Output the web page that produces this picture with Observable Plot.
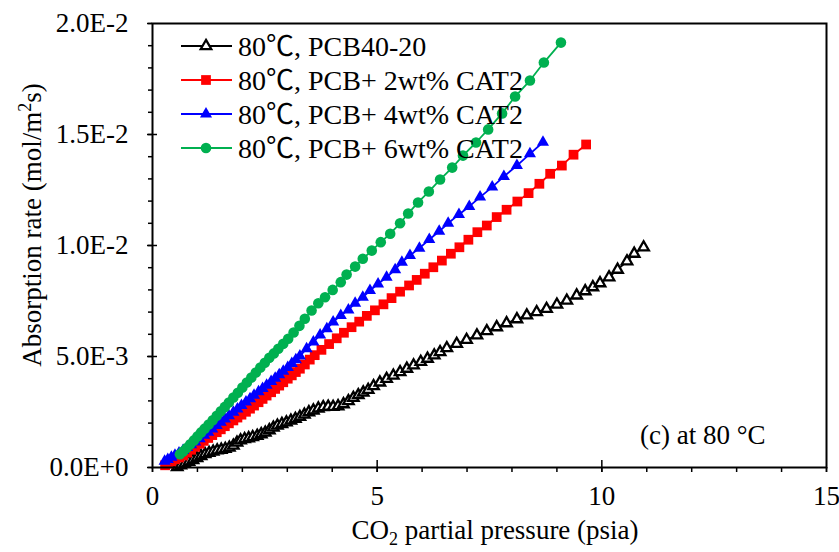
<!DOCTYPE html>
<html><head><meta charset="utf-8">
<script src="https://cdn.jsdelivr.net/npm/d3@7"></script>
<script src="https://cdn.jsdelivr.net/npm/@observablehq/plot@0.6"></script>
<style>body{margin:0;background:#fff;}</style>
</head><body><div id="chart"></div>
<script>
// ---- data (x = CO2 partial pressure, psia; y = absorption rate, mol/m2s) ----
const seriesNames = ["80\u2103, PCB40-20", "80\u2103, PCB+ 2wt% CAT2", "80\u2103, PCB+ 4wt% CAT2", "80\u2103, PCB+ 6wt% CAT2"];

const pcb40_20 = [
[0.55,0.00002],[0.63,0.00010],[0.72,0.00018],[0.81,0.00026],[0.90,0.00034],[0.99,0.00043],[1.08,0.00052],[1.17,0.00060],
[1.26,0.00066],[1.35,0.00072],[1.44,0.00077],[1.53,0.00080],[1.62,0.00084],[1.71,0.00090],[1.80,0.00099],[1.88,0.00112],
[1.96,0.00122],[2.05,0.00128],[2.14,0.00132],[2.23,0.00137],[2.33,0.00143],[2.42,0.00150],[2.51,0.00157],[2.60,0.00168],
[2.69,0.00180],[2.78,0.00189],[2.88,0.00196],[2.98,0.00203],[3.08,0.00211],[3.18,0.00219],[3.28,0.00228],[3.38,0.00238],
[3.48,0.00249],[3.58,0.00257],[3.69,0.00266],[3.80,0.00272],[3.91,0.00274],[4.02,0.00273],[4.13,0.00276],[4.25,0.00285],
[4.36,0.00299],[4.47,0.00314],[4.58,0.00326],[4.69,0.00338],[4.80,0.00350],[4.92,0.00367],[5.06,0.00383],[5.21,0.00399],
[5.36,0.00414],[5.51,0.00430],[5.66,0.00445],[5.81,0.00460],[5.97,0.00476],[6.12,0.00490],[6.27,0.00505],[6.40,0.00520],
[6.55,0.00538],[6.77,0.00557],[6.99,0.00575],[7.22,0.00595],[7.44,0.00614],[7.66,0.00632],[7.88,0.00650],[8.11,0.00668],
[8.33,0.00685],[8.55,0.00700],[8.77,0.00715],[9.00,0.00734],[9.22,0.00752],[9.44,0.00775],[9.63,0.00794],[9.80,0.00812],
[9.96,0.00830],[10.16,0.00857],[10.35,0.00891],[10.56,0.00929],[10.72,0.00963],[10.93,0.00992]
];

const cat2_2wt = [
[0.28,0.00010],[0.35,0.00018],[0.42,0.00027],[0.50,0.00037],[0.59,0.00045],[0.68,0.00054],[0.77,0.00067],[0.86,0.00080],
[0.95,0.00093],[1.05,0.00107],[1.14,0.00120],[1.24,0.00133],[1.33,0.00146],[1.43,0.00159],[1.52,0.00172],[1.61,0.00186],
[1.70,0.00199],[1.80,0.00212],[1.89,0.00225],[1.98,0.00238],[2.08,0.00251],[2.17,0.00265],[2.26,0.00279],[2.36,0.00294],
[2.45,0.00309],[2.54,0.00324],[2.64,0.00339],[2.73,0.00354],[2.82,0.00369],[2.91,0.00384],[3.01,0.00400],[3.10,0.00415],
[3.19,0.00430],[3.28,0.00445],[3.39,0.00464],[3.50,0.00486],[3.61,0.00506],[3.76,0.00530],[3.93,0.00556],[4.10,0.00582],
[4.26,0.00607],[4.43,0.00632],[4.60,0.00657],[4.77,0.00683],[4.95,0.00708],[5.14,0.00735],[5.32,0.00763],[5.51,0.00792],
[5.71,0.00820],[5.88,0.00845],[6.06,0.00873],[6.25,0.00902],[6.44,0.00932],[6.64,0.00963],[6.83,0.00992],[7.03,0.01026],
[7.23,0.01060],[7.44,0.01090],[7.66,0.01128],[7.88,0.01161],[8.12,0.01198],[8.37,0.01236],[8.61,0.01278],[8.85,0.01323],
[9.11,0.01360],[9.37,0.01409],[9.65,0.01455]
];

const cat2_4wt = [
[0.27,0.00028],[0.34,0.00036],[0.42,0.00046],[0.50,0.00055],[0.59,0.00065],[0.68,0.00077],[0.77,0.00090],[0.86,0.00102],
[0.95,0.00115],[1.05,0.00129],[1.15,0.00145],[1.24,0.00159],[1.33,0.00173],[1.43,0.00189],[1.52,0.00204],[1.61,0.00219],
[1.70,0.00233],[1.80,0.00249],[1.89,0.00264],[1.98,0.00279],[2.08,0.00295],[2.17,0.00310],[2.26,0.00325],[2.36,0.00341],
[2.45,0.00356],[2.54,0.00371],[2.64,0.00387],[2.73,0.00402],[2.82,0.00418],[2.91,0.00434],[3.01,0.00451],[3.10,0.00468],
[3.19,0.00485],[3.28,0.00502],[3.43,0.00535],[3.58,0.00565],[3.73,0.00597],[3.88,0.00625],[4.02,0.00655],[4.19,0.00685],
[4.36,0.00710],[4.51,0.00740],[4.68,0.00767],[4.84,0.00797],[5.02,0.00827],[5.21,0.00857],[5.40,0.00891],[5.55,0.00925],
[5.73,0.00955],[5.94,0.00988],[6.16,0.01027],[6.38,0.01064],[6.58,0.01100],[6.82,0.01140],[7.05,0.01176],[7.29,0.01218],
[7.56,0.01263],[7.82,0.01311],[8.11,0.01360],[8.40,0.01413],[8.69,0.01465]
];

const cat2_6wt = [
[0.61,0.00060],[0.68,0.00072],[0.76,0.00088],[0.84,0.00105],[0.92,0.00122],[1.00,0.00140],[1.08,0.00158],[1.16,0.00175],
[1.25,0.00194],[1.34,0.00213],[1.43,0.00233],[1.52,0.00253],[1.61,0.00273],[1.70,0.00293],[1.80,0.00315],[1.90,0.00337],
[2.00,0.00360],[2.10,0.00383],[2.20,0.00405],[2.30,0.00428],[2.40,0.00450],[2.50,0.00472],[2.60,0.00494],[2.70,0.00514],
[2.80,0.00535],[2.91,0.00557],[3.02,0.00580],[3.14,0.00608],[3.27,0.00638],[3.39,0.00670],[3.54,0.00707],[3.69,0.00740],
[3.84,0.00767],[4.01,0.00800],[4.19,0.00835],[4.32,0.00869],[4.51,0.00905],[4.68,0.00940],[4.88,0.00977],[5.08,0.01015],
[5.29,0.01053],[5.51,0.01100],[5.69,0.01144],[5.91,0.01194],[6.15,0.01243],[6.40,0.01297],[6.67,0.01351],[6.91,0.01405],
[7.20,0.01464],[7.47,0.01523],[7.78,0.01595],[8.07,0.01671],[8.40,0.01743],[8.71,0.01824],[9.09,0.01914]
];

const xTicks = [0, 5, 10, 15];
const xTickLabels = ["0", "5", "10", "15"];
const xMinorTicks = [0,1,2,3,4,5,6,7,8,9,10,11,12,13,14,15];
const xInnerTicks = [5, 10];
const yTicks = [0, 0.005, 0.01, 0.015, 0.02];
const yTickLabels = ["0.0E+0", "5.0E-3", "1.0E-2", "1.5E-2", "2.0E-2"];
const yMinorTicks = [0,0.001,0.002,0.003,0.004,0.005,0.006,0.007,0.008,0.009,0.01,0.011,0.012,0.013,0.014,0.015,0.016,0.017,0.018,0.019,0.02];
const yInnerTicks = [0.005, 0.01, 0.015];
const xTitle = ["CO", "2", " partial pressure (psia)"];
const yTitle = ["Absorption rate (mol/m", "2", "s)"];
const noteText = "(c) at 80 \u00B0C";

// ---- styles ----
const FONT = "'Liberation Serif', 'Times New Roman', 'Noto Sans CJK SC', serif";
const styles = [
  {data: pcb40_20, color: "#000000", symbol: "triangle", r: 3.9, fill: "#ffffff", stroke: "#000000", sw: 2.3},
  {data: cat2_2wt, color: "#ff0000", symbol: "square", r: 5.5, fill: "#ff0000", stroke: "none", sw: 0},
  {data: cat2_4wt, color: "#0000ff", symbol: "triangle", r: 4.5, fill: "#0000ff", stroke: "none", sw: 0},
  {data: cat2_6wt, color: "#00b050", symbol: "circle", r: 5.3, fill: "#00b050", stroke: "none", sw: 0}
];

const seriesMarks = styles.flatMap(s => [
  Plot.line(s.data, {x: d => d[0], y: d => d[1], stroke: s.color, strokeWidth: 1.8}),
  Plot.dot(s.data, {x: d => d[0], y: d => d[1], symbol: s.symbol, r: s.r, fill: s.fill, stroke: s.stroke, strokeWidth: s.sw})
]);

const chart = Plot.plot({
  width: 839, height: 552,
  marginLeft: 152, marginRight: 13, marginTop: 23, marginBottom: 85,
  style: {fontFamily: FONT, fontSize: "27px", background: "#fff", color: "#000", overflow: "visible"},
  x: {domain: [0, 15]},
  y: {domain: [0, 0.02]},
  marks: [
    ...seriesMarks,
    Plot.axisX({ticks: xMinorTicks, tickSize: 5, text: null, strokeWidth: 1.5, label: null}),
    Plot.axisX({ticks: xInnerTicks, tickSize: -7, text: null, strokeWidth: 1.5, label: null}),
    Plot.axisX({ticks: xTicks, tickFormat: d => xTickLabels[xTicks.indexOf(d)], tickSize: 5, tickPadding: 13, strokeWidth: 1.5, fontSize: 27, label: null}),
    Plot.axisY({ticks: yMinorTicks, tickSize: 4, text: null, strokeWidth: 1.5, label: null}),
    Plot.axisY({ticks: yInnerTicks, tickSize: -5, text: null, strokeWidth: 1.5, label: null}),
    Plot.axisY({ticks: yTicks, tickFormat: d => yTickLabels[yTicks.indexOf(d)], tickSize: 5, tickPadding: 19, strokeWidth: 1.5, fontSize: 27, label: null}),
    Plot.frame({stroke: "#000", strokeWidth: 2})
  ]
});

document.getElementById("chart").appendChild(chart);

const svg = d3.select(chart);
// axis titles
const xt = svg.append("text").attr("x", 495).attr("y", 539).attr("text-anchor", "middle")
  .attr("font-family", FONT).attr("font-size", 27).attr("fill", "#000");
xt.append("tspan").text(xTitle[0]);
xt.append("tspan").attr("dy", 6).attr("font-size", 18).text(xTitle[1]);
xt.append("tspan").attr("dy", -6).text(xTitle[2]);

const yt = svg.append("text").attr("transform", "translate(41,225) rotate(-90)").attr("text-anchor", "middle")
  .attr("font-family", FONT).attr("font-size", 27).attr("fill", "#000");
yt.append("tspan").text(yTitle[0]);
yt.append("tspan").attr("dy", -10).attr("font-size", 18).text(yTitle[1]);
yt.append("tspan").attr("dy", 10).text(yTitle[2]);

// note
svg.append("text").attr("x", 640).attr("y", 444).attr("text-anchor", "start")
  .attr("font-family", FONT).attr("font-size", 27).attr("fill", "#000").text(noteText);

// legend
const symMap = {triangle: d3.symbolTriangle, square: d3.symbolSquare, circle: d3.symbolCircle};
const lg = svg.append("g");
styles.forEach((s, i) => {
  const cy = 46 + i * 34;
  lg.append("line").attr("x1", 181).attr("x2", 232).attr("y1", cy).attr("y2", cy)
    .attr("stroke", s.color).attr("stroke-width", 1.8);
  lg.append("path").attr("transform", `translate(206,${cy})`)
    .attr("d", d3.symbol(symMap[s.symbol], Math.PI * s.r * s.r)())
    .attr("fill", s.fill).attr("stroke", s.stroke).attr("stroke-width", s.sw);
  lg.append("text").attr("x", 238).attr("y", cy + 9.5).attr("text-anchor", "start")
    .attr("font-family", FONT).attr("font-size", 28).attr("fill", "#000").text(seriesNames[i]);
});
</script>
</body></html>
